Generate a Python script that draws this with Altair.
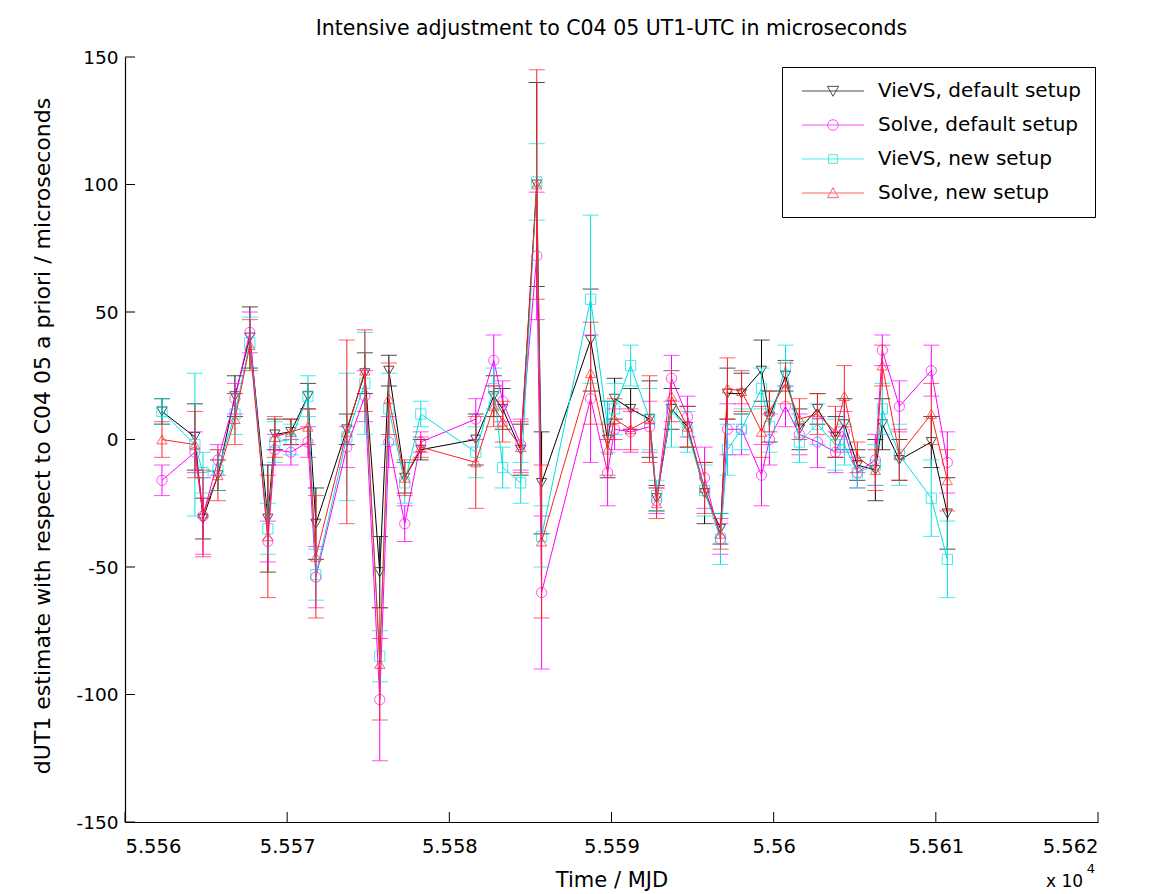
import altair as alt
import pandas as pd

# ---- data ----
mjd = [55562.28, 55564.31, 55564.81, 55565.73, 55566.78, 55567.70, 55568.81, 55569.24,
       55570.23, 55571.28, 55571.77, 55573.68, 55574.79, 55575.71, 55576.27, 55577.25,
       55578.24, 55581.63, 55582.74, 55583.29, 55584.40, 55585.39, 55585.69, 55588.71,
       55589.76, 55590.19, 55591.18, 55592.35, 55592.78, 55593.70, 55594.69, 55595.74,
       55596.72, 55597.15, 55598.02, 55599.25, 55599.74, 55600.73, 55601.59, 55602.70,
       55603.81, 55604.36, 55605.16, 55606.27, 55606.70, 55607.75, 55609.72, 55610.71]

vievs_default = [11, 1, -31, -14, 17, 40, -31, 2, 3, 17, -33, 4, 26, -52, 27, -15, -4, 0, 17, 12,
                 -4, 100, -17, 39, 0, 16, 12, 8, -23, 12, 5, -21, -35, 18, 18, 27, 9, 25, 4, 12,
                 1, 6, -10, -12, 6, -8, -1, -29]
solve_default = [-16, -5, -30, -8, 16, 42, -40, -4, -5, -1, -54, -3, 17, -102, -1, -33, -1, 8, 31, 15,
                 -2, 72, -60, 16, -13, 4, 3, 5, -24, 24, 9, -15, -39, 4, 4, -14, 0, 13, 2, -1,
                 -5, 3, -13, -8, 35, 13, 27, -9]
vievs_new = [11, -2, -13, -12, 10, 38, -35, -1, 0, 17, -53, 1, 22, -85, 12, -17, 10, -5, 20, -11,
             -17, 101, -38, 55, 5, 12, 29, 8, -22, 12, 3, -20, -39, -4, 4, 20, 5, 29, -1, 6,
             -2, -2, -13, -10, 12, -6, -23, -47]
solve_new = [0, -2, -29, -14, 8, 37, -38, 1, 3, 5, -46, 3, 27, -88, 16, -15, -3, -9, 13, 7,
             -3, 100, -40, 26, -4, 8, 4, 8, -25, 17, 5, -19, -37, 20, 19, 3, 11, 22, 8, 10,
             3, 17, -7, -12, 29, -6, 10, -16]

err_vievs_default = [5, 13, 8, 6, 8, 12, 21, 6, 5, 5, 14, 6, 8, 14, 6, 6, 4, 10, 8, 8,
                     10, 40, 20, 20, 15, 8, 8, 15, 5, 8, 8, 12, 6, 10, 8, 12, 10, 6, 8, 6,
                     8, 10, 6, 12, 10, 8, 10, 14]
err_solve_default = [6, 8, 15, 6, 6, 8, 8, 6, 5, 6, 12, 8, 10, 24, 10, 7, 4, 8, 10, 8,
                     10, 25, 30, 25, 13, 8, 8, 10, 5, 9, 8, 12, 6, 10, 10, 12, 10, 8, 8, 10,
                     8, 8, 6, 10, 6, 10, 10, 12]
err_vievs_new = [5, 28, 8, 8, 8, 10, 10, 8, 6, 8, 10, 25, 20, 10, 14, 8, 5, 10, 8, 8,
                 8, 15, 12, 33, 10, 10, 8, 12, 6, 15, 8, 10, 10, 10, 8, 8, 10, 8, 8, 8,
                 10, 8, 6, 8, 10, 12, 15, 15]
err_solve_new = [7, 13, 17, 10, 10, 10, 24, 8, 5, 7, 24, 36, 16, 22, 14, 7, 4, 18, 8, 8,
                 10, 45, 30, 20, 10, 8, 8, 17, 6, 10, 8, 10, 6, 12, 8, 10, 8, 8, 8, 8,
                 10, 12, 6, 8, 8, 10, 12, 12]

series_names = ["VieVS, default setup", "Solve, default setup", "VieVS, new setup", "Solve, new setup"]
series_values = [vievs_default, solve_default, vievs_new, solve_new]
series_errors = [err_vievs_default, err_solve_default, err_vievs_new, err_solve_new]

x_ticks = [55560, 55570, 55580, 55590, 55600, 55610, 55620]
y_ticks = [-150, -100, -50, 0, 50, 100, 150]

# ---- styles ----
colors = ["#000000", "#ff00ff", "#00e0e0", "#ff2020"]
shapes = ["triangle-down", "circle", "square", "triangle-up"]
legend_paths = [
    "M-5,0H5M-0.9,-0.75L0.9,-0.75L0,0.85Z",
    "M-5,0H5M0.85,0A0.85,0.85 0 1,1 -0.85,0A0.85,0.85 0 1,1 0.85,0Z",
    "M-5,0H5M-0.7,-0.7H0.7V0.7H-0.7Z",
    "M-5,0H5M-0.9,0.75L0.9,0.75L0,-0.85Z",
]
FONT = "DejaVu Sans"
W, H = 973, 765

rows = []
for name, vals, errs in zip(series_names, series_values, series_errors):
    for t, v, e in zip(mjd, vals, errs):
        rows.append({"series": name, "mjd": t, "value": v, "low": v - e, "high": v + e})
df = pd.DataFrame(rows)

xscale = alt.Scale(domain=[55560, 55620], nice=False, zero=False)
yscale = alt.Scale(domain=[-150, 150], nice=False, zero=False)
xaxis = alt.Axis(values=x_ticks, ticks=False, grid=False, labelPadding=15,
                 labelFontSize=19.5,
                 labelExpr="format(datum.value / 10000, '.4~f')",
                 titleFontSize=21, titleY=58, titleBaseline="middle")
yaxis = alt.Axis(values=y_ticks, ticks=False, grid=False, labelPadding=7,
                 labelFontSize=18.5,
                 labelExpr="toString(datum.value)",
                 titleFontSize=22, titleX=-76, titleY=H / 2 - 4, titleAngle=270,
                 titleAlign="center", titleBaseline="alphabetic")
YT = "dUT1 estimate with respect to C04 05 a priori / microseconds"
XT = "Time / MJD"

def X():
    return alt.X("mjd:Q", scale=xscale, axis=xaxis, title=XT)

def Y(field):
    return alt.Y(field + ":Q", scale=yscale, axis=yaxis, title=YT)

base = alt.Chart(df)
layers = []
for name, c, shp in zip(series_names, colors, shapes):
    sub = base.transform_filter(alt.datum.series == name)
    layers.append(sub.mark_rule(color=c, strokeWidth=1).encode(x=X(), y=Y("low"), y2="high:Q"))
    layers.append(sub.mark_tick(color=c, orient="horizontal", size=16, thickness=1).encode(x=X(), y=Y("low")))
    layers.append(sub.mark_tick(color=c, orient="horizontal", size=16, thickness=1).encode(x=X(), y=Y("high")))
    layers.append(sub.mark_line(color=c, strokeWidth=1).encode(x=X(), y=Y("value"), order="mjd:Q"))
    layers.append(sub.mark_point(shape=shp, color=c, filled=False, size=105, strokeWidth=1)
                  .encode(x=X(), y=Y("value")))

# inward axis ticks
xt_df = pd.DataFrame({"mjd": x_ticks})
yt_df = pd.DataFrame({"value": y_ticks})
layers.append(alt.Chart(xt_df).mark_rule(color="black", strokeWidth=1).encode(
    x=X(), y=alt.value(H), y2=alt.value(H - 10)))
layers.append(alt.Chart(yt_df).mark_rule(color="black", strokeWidth=1).encode(
    y=Y("value"), x=alt.value(0), x2=alt.value(10)))

# legend-only layer
leg = alt.Legend(title=None, orient="none", legendX=657, legendY=10, strokeColor="black",
                 fillColor="white", padding=14, rowPadding=14, symbolSize=154,
                 symbolStrokeWidth=1, symbolOffset=27, labelOffset=35, labelLimit=500,
                 labelFont=FONT, labelFontSize=20, labelColor="black")
layers.append(base.transform_filter("false").mark_point(filled=False, strokeWidth=1).encode(
    x=X(), y=Y("value"),
    color=alt.Color("series:N", scale=alt.Scale(domain=series_names, range=colors), legend=leg),
    shape=alt.Shape("series:N", scale=alt.Scale(domain=series_names, range=legend_paths), legend=leg),
))

# exponent annotation
layers.append(alt.Chart(pd.DataFrame({"t": ["x 10"]})).mark_text(
    font=FONT, fontSize=17, align="left", baseline="top", color="black").encode(
    text="t:N", x=alt.value(921), y=alt.value(817)))
layers.append(alt.Chart(pd.DataFrame({"t": ["4"]})).mark_text(
    font=FONT, fontSize=13, align="center", baseline="middle", color="black").encode(
    text="t:N", x=alt.value(966), y=alt.value(812)))

chart = alt.layer(*layers).properties(
    width=W, height=H,
    title=alt.TitleParams("Intensive adjustment to C04 05 UT1-UTC in microseconds",
                          font=FONT, fontSize=20.5, fontWeight="normal", color="black",
                          anchor="middle", frame="group", offset=9),
    autosize=alt.AutoSizeParams(type="none"),
    padding={"left": 125, "top": 57, "right": 58, "bottom": 72},
).configure_view(stroke=None).configure_axis(
    domainColor="black", domainWidth=1.2, labelFont=FONT, labelColor="black",
    titleFont=FONT, titleFontWeight="normal", titleColor="black",
)

chart.save("out.html", embed_options={"renderer": "svg", "actions": False})
